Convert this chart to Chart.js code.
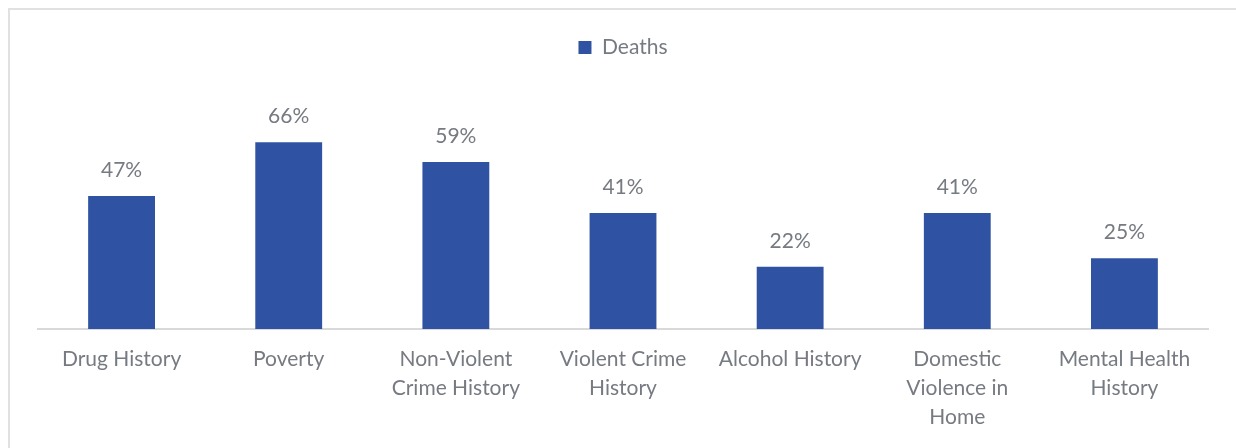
<!DOCTYPE html>
<html>
<head>
<meta charset="utf-8">
<script src="https://cdn.jsdelivr.net/npm/chart.js@4.4.0/dist/chart.umd.min.js"></script>
<style>
  html, body { margin: 0; padding: 0; background: #fff; }
  #wrap { position: relative; width: 1236px; height: 448px; }
  #frame {
    position: absolute; left: 8px; top: 8px; right: 0; bottom: 0;
    border-top: 2px solid #e1e1e1; border-left: 2px solid #e1e1e1;
    pointer-events: none;
  }
  canvas { position: absolute; left: 0; top: 0; }
</style>
</head>
<body>
<div id="wrap">
  <canvas id="chart" width="1236" height="448"></canvas>
  <div id="frame"></div>
</div>
<script>
// data
const categories = [
  "Drug History",
  "Poverty",
  ["Non-Violent", "Crime History"],
  ["Violent Crime", "History"],
  "Alcohol History",
  ["Domestic", "Violence in", "Home"],
  ["Mental Health", "History"],
];
const deaths = [47, 66, 59, 41, 22, 41, 25];
const seriesName = "Deaths";

const TEXT = "#767a81";
const BAR = "#2f53a2";
const FONT = "Lato, 'Open Sans', sans-serif";

// 범례 아래 여백 늘리기
const legendGap = {
  id: "legendGap",
  beforeInit(chart) {
    const fit = chart.legend.fit;
    chart.legend.fit = function () {
      fit.bind(chart.legend)();
      this.height += 63;
    };
  },
};

// 막대 위 퍼센트 라벨
const barLabels = {
  id: "barLabels",
  afterDatasetsDraw(chart) {
    const ctx = chart.ctx;
    const meta = chart.getDatasetMeta(0);
    ctx.save();
    ctx.font = `21px ${FONT}`;
    ctx.fillStyle = TEXT;
    ctx.textAlign = "center";
    ctx.textBaseline = "middle";
    meta.data.forEach((bar, i) => {
      ctx.fillText(`${deaths[i]}%`, bar.x, bar.y - 26);
    });
    ctx.restore();
  },
};

const ctx = document.getElementById("chart").getContext("2d");
new Chart(ctx, {
  type: "bar",
  data: {
    labels: categories,
    datasets: [
      {
        label: seriesName,
        data: deaths,
        backgroundColor: BAR,
        borderWidth: 0,
        barPercentage: 0.4,
        categoryPercentage: 1.0,
      },
    ],
  },
  options: {
    responsive: false,
    animation: false,
    layout: {
      padding: { left: 38, right: 28, top: 11, bottom: 0 },
    },
    scales: {
      x: {
        grid: { display: false, drawTicks: false },
        border: { display: true, color: "#d9d9d9", width: 2 },
        ticks: {
          color: TEXT,
          padding: 16,
          maxRotation: 0,
          autoSkip: false,
          font: { family: FONT, size: 21, lineHeight: 1.38 },
        },
      },
      y: {
        display: false,
        min: 0,
        max: 70,
      },
    },
    plugins: {
      legend: {
        position: "top",
        labels: {
          color: TEXT,
          boxWidth: 13,
          boxHeight: 13,
          padding: 26,
          font: { family: FONT, size: 21 },
        },
      },
      tooltip: { enabled: false },
    },
  },
  plugins: [legendGap, barLabels],
});
</script>
</body>
</html>
